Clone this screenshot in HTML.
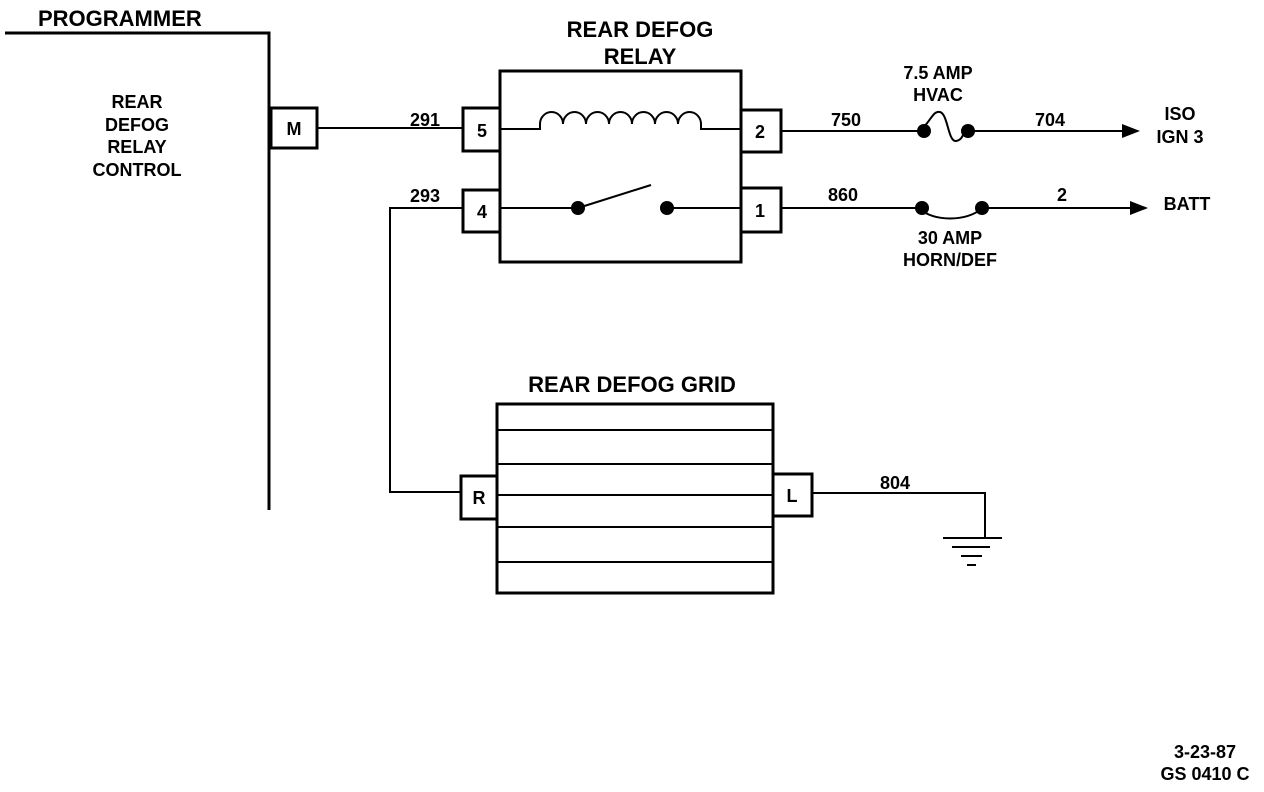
<!DOCTYPE html>
<html><head><style>body{margin:0;background:#fff}svg{display:block}text{font-family:"Liberation Sans",sans-serif;font-weight:bold;fill:#000}</style></head><body>
<svg width="1264" height="792" viewBox="0 0 1264 792">
<g stroke="#000" fill="none" stroke-width="2">
<polyline points="5,33 269,33 269,510" stroke-width="3"/>
<rect x="271" y="108" width="46" height="40" stroke-width="3"/>
<line x1="317" y1="128" x2="463" y2="128"/>
<rect x="500" y="71" width="241" height="191" stroke-width="3"/>
<rect x="463" y="108" width="37" height="43" stroke-width="3"/>
<rect x="463" y="190" width="37" height="42" stroke-width="3"/>
<rect x="741" y="110" width="40" height="42" stroke-width="3"/>
<rect x="741" y="188" width="40" height="44" stroke-width="3"/>
<path d="M500,129 H540 V124 a11.5,12 0 0 1 23,0 a11.5,12 0 0 1 23,0 a11.5,12 0 0 1 23,0 a11.5,12 0 0 1 23,0 a11.5,12 0 0 1 23,0 a11.5,12 0 0 1 23,0 a11.5,12 0 0 1 23,0 V129 H741"/>
<line x1="500" y1="208" x2="578" y2="208"/>
<line x1="578" y1="208" x2="651" y2="185"/>
<line x1="667" y1="208" x2="741" y2="208"/>
<line x1="781" y1="131" x2="918" y2="131"/>
<path d="M918,131 C930,125 932,110 940,112 C948,114 948,142 956,141 C964,140 962,131 968,131"/>
<line x1="968" y1="131" x2="1125" y2="131"/>
<line x1="781" y1="208" x2="918" y2="208"/>
<path d="M918,208 C935,222 965,222 983,208"/>
<line x1="983" y1="208" x2="1132" y2="208"/>
<polyline points="463,208 390,208 390,492 461,492"/>
<rect x="497" y="404" width="276" height="189" stroke-width="3"/>
<line x1="497" y1="430" x2="773" y2="430"/>
<line x1="497" y1="464" x2="773" y2="464"/>
<line x1="497" y1="495" x2="773" y2="495"/>
<line x1="497" y1="527" x2="773" y2="527"/>
<line x1="497" y1="562" x2="773" y2="562"/>
<rect x="461" y="476" width="36" height="43" stroke-width="3"/>
<rect x="773" y="474" width="39" height="42" stroke-width="3"/>
<polyline points="812,493 985,493 985,538"/>
<line x1="943" y1="538" x2="1002" y2="538"/>
<line x1="952" y1="547" x2="990" y2="547"/>
<line x1="961" y1="556" x2="982" y2="556"/>
<line x1="967" y1="565" x2="976" y2="565"/>
</g>
<g fill="#000">
<circle cx="578" cy="208" r="7"/><circle cx="667" cy="208" r="7"/>
<circle cx="924" cy="131" r="7"/><circle cx="968" cy="131" r="7"/>
<circle cx="922" cy="208" r="7"/><circle cx="982" cy="208" r="7"/>
<polygon points="1122,124 1140,131 1122,138"/>
<polygon points="1130,201 1148,208 1130,215"/>
</g>
<text x="38" y="26" font-size="22">PROGRAMMER</text>
<g font-size="18" text-anchor="middle">
<text x="137" y="108">REAR</text><text x="137" y="131">DEFOG</text><text x="137" y="153">RELAY</text><text x="137" y="176">CONTROL</text>
<text x="640" y="37" font-size="22">REAR DEFOG</text><text x="640" y="64" font-size="22">RELAY</text>
<text x="632" y="392" font-size="22">REAR DEFOG GRID</text>
<text x="294" y="135">M</text><text x="482" y="137">5</text><text x="482" y="218">4</text><text x="760" y="138">2</text><text x="760" y="217">1</text>
<text x="479" y="504">R</text><text x="792" y="502">L</text>
<text x="425" y="126">291</text><text x="425" y="202">293</text>
<text x="846" y="126">750</text><text x="1050" y="126">704</text>
<text x="843" y="201">860</text><text x="1062" y="201">2</text>
<text x="895" y="489">804</text>
<text x="938" y="79">7.5 AMP</text><text x="938" y="101">HVAC</text>
<text x="950" y="244">30 AMP</text><text x="950" y="266">HORN/DEF</text>
<text x="1180" y="120">ISO</text><text x="1180" y="143">IGN 3</text>
<text x="1187" y="210">BATT</text>
<text x="1205" y="758">3-23-87</text><text x="1205" y="780">GS 0410 C</text>
</g>
</svg>
</body></html>
